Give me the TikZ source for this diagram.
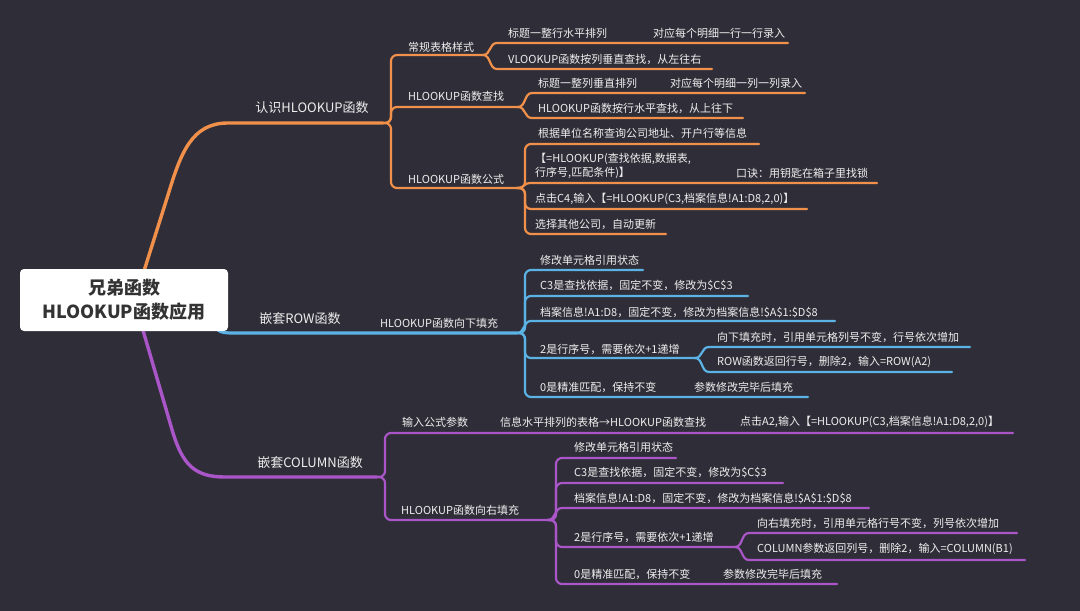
\documentclass[tikz,border=0pt]{standalone}
\usepackage{fontspec}
\setmainfont{Noto Sans CJK SC}
\definecolor{bg}{HTML}{2F2E38}
\definecolor{org}{HTML}{F0904A}
\definecolor{blu}{HTML}{5BB3E5}
\definecolor{pur}{HTML}{AA55C8}
\definecolor{txt}{HTML}{EEEEEE}
\definecolor{roottxt}{HTML}{333333}
\tikzset{
  lbl/.style={text=txt, font=\fontsize{11}{14}\selectfont, inner sep=0pt, anchor=west},
  mainlbl/.style={text=txt, font=\fontsize{13}{15}\selectfont, inner sep=0pt},
  lo/.style={draw=org, line width=2.2pt, line cap=round},
  lb/.style={draw=blu, line width=2.2pt, line cap=round},
  lp/.style={draw=pur, line width=2.2pt, line cap=round},
  lomain/.style={draw=org, line width=3.4pt, line cap=round},
  lbmain/.style={draw=blu, line width=3.2pt, line cap=round},
  lpmain/.style={draw=pur, line width=3.4pt, line cap=round},
  rootbox/.style={fill=white, rounded corners=4pt, minimum width=208pt, minimum height=62pt,
    align=center, text=roottxt, font=\fontsize{18}{24}\selectfont\bfseries, inner sep=0pt}
}
% #1 style, #2 fork x, #3 fork y, #4 child line y, #5 child line end x
\newcommand\mmfork[5]{%
  \pgfmathtruncatemacro\mmnear{abs(#4-#3)<16}%
  \ifnum\mmnear=1
    \draw[#1] (#2,#3) .. controls (#2+8,#3) and (#2+6,#4) .. (#2+14,#4) -- (#5,#4);
  \else
    \draw[#1,rounded corners=6pt] (#2,#3) -- (#2+8,#3) -- (#2+8,#4) -- (#5,#4);
  \fi}
\begin{document}
\begin{tikzpicture}[x=1pt,y=-1pt]
\useasboundingbox (0,0) rectangle (1080,611);
\fill[bg] (0,0) rectangle (1080,611);

% ---------------- orange branch ----------------
\draw[lomain] (138,290) -- (168,195) .. controls (181,152) and (192,123) .. (228,123) -- (383,123);
\node[mainlbl] (m1) at (312,108) {认识HLOOKUP函数};
\mmfork{lo}{383}{123}{55}{483}
\mmfork{lo}{383}{123}{107}{518}
\mmfork{lo}{383}{123}{188}{517}
\node[lbl] (a1) at (408,47) {常规表格样式};
\node[lbl] (a2) at (408,96) {HLOOKUP函数查找};
\node[lbl] (a3) at (408,179) {HLOOKUP函数公式};
\mmfork{lo}{483}{55}{43}{788}
\mmfork{lo}{483}{55}{69}{712}
\node[lbl] (a11) at (508,33) {标题一整行水平排列};
\node[lbl] (a111) at (653,33) {对应每个明细一行一行录入};
\node[lbl] (a12) at (508,59) {VLOOKUP函数按列垂直查找，从左往右};
\mmfork{lo}{518}{107}{93}{805}
\mmfork{lo}{518}{107}{118}{743}
\node[lbl] (a21) at (538,83) {标题一整列垂直排列};
\node[lbl] (a211) at (670,83) {对应每个明细一列一列录入};
\node[lbl] (a22) at (538,108) {HLOOKUP函数按行水平查找，从上往下};
\mmfork{lo}{517}{188}{144}{759}
\mmfork{lo}{517}{188}{183}{877}
\mmfork{lo}{517}{188}{209}{807}
\mmfork{lo}{517}{188}{234}{666}
\node[lbl] (a31) at (538,133) {根据单位名称查询公司地址、开户行等信息};
\node[lbl,align=left] (a32) at (535,166) {【=HLOOKUP(查找依据,数据表,\\行序号,匹配条件)】};
\node[lbl] (a321) at (736,173) {口诀：用钥匙在箱子里找锁};
\node[lbl] (a33) at (535,199) {点击C4,输入【=HLOOKUP(C3,档案信息!A1:D8,2,0)】};
\node[lbl] (a34) at (535,224) {选择其他公司，自动更新};

% ---------------- blue branch ----------------
\draw[lbmain] (212,322) .. controls (218,333) and (222,333) .. (236,333) -- (517,333);
\node[mainlbl] (m2) at (300,319) {嵌套ROW函数};
\node[lbl] (b1) at (380,323) {HLOOKUP函数向下填充};
\mmfork{lb}{517}{333}{270}{643}
\mmfork{lb}{517}{333}{296}{748}
\mmfork{lb}{517}{333}{321}{835}
\mmfork{lb}{517}{333}{358}{695}
\mmfork{lb}{517}{333}{397}{808}
\node[lbl] (b11) at (540,260) {修改单元格引用状态};
\node[lbl] (b12) at (540,286) {C3是查找依据，固定不变，修改为\$C\$3};
\node[lbl] (b13) at (540,312) {档案信息!A1:D8，固定不变，修改为档案信息!\$A\$1:\$D\$8};
\node[lbl] (b14) at (540,349) {2是行序号，需要依次+1递增};
\node[lbl] (b15) at (540,387) {0是精准匹配，保持不变};
\node[lbl] (b151) at (694,387) {参数修改完毕后填充};
\mmfork{lb}{695}{358}{347}{970}
\mmfork{lb}{695}{358}{372}{952}
\node[lbl] (b141) at (717,337) {向下填充时，引用单元格列号不变，行号依次增加};
\node[lbl] (b142) at (717,362) {ROW函数返回行号，删除2，输入=ROW(A2)};

% ---------------- purple branch ----------------
\draw[lpmain] (140,320) -- (173,433) .. controls (183,465) and (195,477) .. (225,477) -- (377,477);
\node[mainlbl] (m3) at (310,463) {嵌套COLUMN函数};
\mmfork{lp}{377}{477}{433}{1013}
\mmfork{lp}{377}{477}{520}{548}
\node[lbl] (c1) at (402,422) {输入公式参数};
\node[lbl] (c11) at (500,422) {信息水平排列的表格→HLOOKUP函数查找};
\node[lbl] (c111) at (740,422) {点击A2,输入【=HLOOKUP(C3,档案信息!A1:D8,2,0)】};
\node[lbl] (c2) at (401,510) {HLOOKUP函数向右填充};
\mmfork{lp}{548}{520}{458}{676}
\mmfork{lp}{548}{520}{483}{783}
\mmfork{lp}{548}{520}{508}{869}
\mmfork{lp}{548}{520}{547}{735}
\mmfork{lp}{548}{520}{584}{837}
\node[lbl] (c21) at (574,447) {修改单元格引用状态};
\node[lbl] (c22) at (574,473) {C3是查找依据，固定不变，修改为\$C\$3};
\node[lbl] (c23) at (574,498) {档案信息!A1:D8，固定不变，修改为档案信息!\$A\$1:\$D\$8};
\node[lbl] (c24) at (574,537) {2是行序号，需要依次+1递增};
\node[lbl] (c25) at (574,574) {0是精准匹配，保持不变};
\node[lbl] (c251) at (723,574) {参数修改完毕后填充};
\mmfork{lp}{735}{547}{533}{1017}
\mmfork{lp}{735}{547}{560}{1025}
\node[lbl] (c241) at (757,523) {向右填充时，引用单元格行号不变，列号依次增加};
\node[lbl] (c242) at (757,549) {COLUMN参数返回列号，删除2，输入=COLUMN(B1)};

% ---------------- root ----------------
\node[rootbox] (root) at (124,300) {兄弟函数\\HLOOKUP函数应用};
\end{tikzpicture}
\end{document}
